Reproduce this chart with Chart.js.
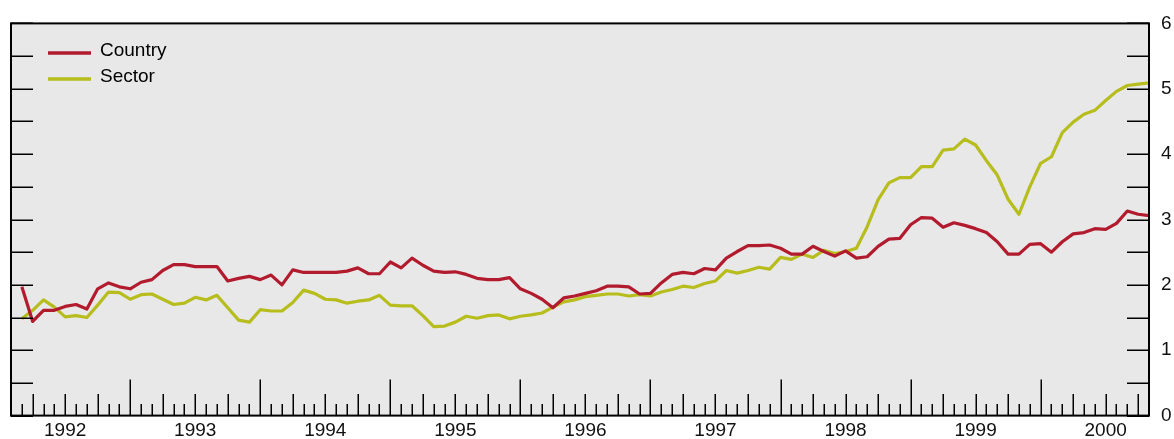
<!DOCTYPE html>
<html>
<head>
<meta charset="utf-8">
<script src="https://cdn.jsdelivr.net/npm/chart.js@4/dist/chart.umd.min.js"></script>
<style>
  html, body { margin: 0; padding: 0; background: #ffffff; }
  #wrap { width: 1174px; height: 439px; }
</style>
</head>
<body>
<div id="wrap"><canvas id="c" width="1174" height="439"></canvas></div>
<script>
// ---- data (monthly, March 1992 to November 2000) ----
const startYear = 1992;
const startMonth = 3; // March
const yearLabels = ['1992', '1993', '1994', '1995', '1996', '1997', '1998', '1999', '2000'];
const yTickValues = [0, 1, 2, 3, 4, 5, 6];
const seriesNames = ['Country', 'Sector'];

const country = [
  1.97, 1.44, 1.61, 1.61, 1.67, 1.70, 1.63, 1.94, 2.03, 1.97, 1.94, 2.04,
  2.08, 2.22, 2.31, 2.31, 2.28, 2.28, 2.28, 2.06, 2.10, 2.13, 2.08, 2.15,
  2.00, 2.23, 2.19, 2.19, 2.19, 2.19, 2.21, 2.26, 2.17, 2.17, 2.35, 2.26,
  2.41, 2.30, 2.21, 2.19, 2.20, 2.16, 2.10, 2.08, 2.08, 2.11, 1.94, 1.87,
  1.78, 1.65, 1.80, 1.83, 1.87, 1.91, 1.98, 1.98, 1.97, 1.86, 1.87, 2.03,
  2.16, 2.19, 2.17, 2.25, 2.23, 2.41, 2.51, 2.60, 2.60, 2.61, 2.56, 2.47,
  2.47, 2.59, 2.51, 2.44, 2.52, 2.41, 2.43, 2.59, 2.70, 2.71, 2.92, 3.03,
  3.02, 2.88, 2.95, 2.91, 2.86, 2.80, 2.66, 2.47, 2.47, 2.62, 2.63, 2.50,
  2.66, 2.78, 2.80, 2.86, 2.85, 2.94, 3.13, 3.08, 3.06
];
const sector = [
  1.48, 1.61, 1.77, 1.66, 1.51, 1.53, 1.50, 1.69, 1.89, 1.88, 1.78, 1.85,
  1.86, 1.78, 1.70, 1.72, 1.81, 1.77, 1.84, 1.65, 1.46, 1.43, 1.62, 1.60,
  1.60, 1.73, 1.92, 1.87, 1.78, 1.77, 1.72, 1.75, 1.77, 1.84, 1.69, 1.68,
  1.68, 1.53, 1.36, 1.37, 1.43, 1.52, 1.49, 1.53, 1.54, 1.48, 1.52, 1.54,
  1.57, 1.66, 1.74, 1.77, 1.82, 1.84, 1.86, 1.86, 1.83, 1.85, 1.83, 1.89,
  1.93, 1.98, 1.96, 2.02, 2.06, 2.22, 2.18, 2.22, 2.27, 2.24, 2.42, 2.39,
  2.47, 2.42, 2.53, 2.48, 2.51, 2.56, 2.89, 3.30, 3.56, 3.64, 3.64, 3.81,
  3.81, 4.06, 4.08, 4.23, 4.14, 3.90, 3.68, 3.31, 3.08, 3.50, 3.86, 3.96,
  4.33, 4.49, 4.61, 4.67, 4.82, 4.96, 5.05, 5.07, 5.09
];

// ---- style ----
const RED = '#b21a2d';
const GREEN = '#b6bd1c';
const PLOT_BG = '#e8e8e8';
const FONT = "'Liberation Sans', Arial, Helvetica, sans-serif";

// time positions in decimal years (month index -> year fraction)
const xValues = country.map((_, i) => startYear + (startMonth - 1 + i) / 12);
const X_MIN = startYear + (startMonth - 2) / 12;
const X_MAX = xValues[xValues.length - 1];

const toPts = arr => arr.map((v, i) => ({ x: xValues[i], y: v }));

const backgroundPlugin = {
  id: 'bg',
  beforeDraw(chart) {
    const { ctx, chartArea: a } = chart;
    ctx.save();
    ctx.fillStyle = '#ffffff';
    ctx.fillRect(0, 0, chart.width, chart.height);
    ctx.fillStyle = PLOT_BG;
    ctx.fillRect(a.left, a.top, a.right - a.left, a.bottom - a.top);
    ctx.restore();
  }
};

const frameTicksPlugin = {
  id: 'frameTicks',
  afterDraw(chart) {
    const { ctx, chartArea: a, scales } = chart;
    const xs = scales.x, ys = scales.y;
    ctx.save();
    ctx.strokeStyle = '#000';
    ctx.lineWidth = 1.5;
    // y ticks every half unit, both sides, pointing inwards
    ctx.beginPath();
    for (let v = ys.min; v <= ys.max + 1e-9; v += 0.5) {
      const py = Math.round(ys.getPixelForValue(v)) + 0.25;
      ctx.moveTo(a.left, py); ctx.lineTo(a.left + 22, py);
      ctx.moveTo(a.right - 22, py); ctx.lineTo(a.right, py);
    }
    ctx.stroke();
    // x month ticks, pointing up from the bottom axis
    ctx.beginPath();
    const firstMonth = Math.ceil(xs.min * 12 + 1e-6);
    const lastMonth = Math.floor(xs.max * 12 - 1e-6);
    for (let m = firstMonth; m <= lastMonth; m++) {
      const px = Math.round(xs.getPixelForValue(m / 12)) + 0.25;
      const mo = ((m % 12) + 12) % 12;
      let len = 11.5;
      if (mo === 0) len = 36;
      else if (mo % 3 === 0) len = 21.5;
      ctx.moveTo(px, a.bottom); ctx.lineTo(px, a.bottom - len);
    }
    ctx.stroke();
    // frame
    ctx.lineWidth = 2;
    ctx.strokeRect(a.left, a.top, a.right - a.left, a.bottom - a.top);
    ctx.restore();

    // legend
    ctx.save();
    const items = [
      { label: seriesNames[0], color: RED, y: 53 },
      { label: seriesNames[1], color: GREEN, y: 79 }
    ];
    ctx.font = "19px " + FONT;
    ctx.textBaseline = 'middle';
    ctx.fillStyle = '#000';
    items.forEach(it => {
      ctx.strokeStyle = it.color;
      ctx.lineWidth = 3.5;
      ctx.beginPath();
      ctx.moveTo(48, it.y); ctx.lineTo(91, it.y);
      ctx.stroke();
      ctx.fillText(it.label, 100, it.y - 2.5);
    });
    ctx.restore();
  }
};

new Chart(document.getElementById('c'), {
  type: 'line',
  data: {
    datasets: [
      { label: seriesNames[0], data: toPts(country), borderColor: RED, backgroundColor: RED,
        borderWidth: 3.2, pointRadius: 0, tension: 0, borderJoinStyle: 'round' },
      { label: seriesNames[1], data: toPts(sector), borderColor: GREEN, backgroundColor: GREEN,
        borderWidth: 3.2, pointRadius: 0, tension: 0, borderJoinStyle: 'round' }
    ]
  },
  options: {
    responsive: false,
    animation: false,
    events: [],
    layout: { padding: { left: 11, top: 19, right: 0, bottom: 0 } },
    plugins: { legend: { display: false }, tooltip: { enabled: false } },
    scales: {
      x: {
        type: 'linear',
        min: X_MIN,
        max: X_MAX,
        grid: { display: false, drawTicks: false },
        border: { display: false },
        afterBuildTicks: s => { s.ticks = yearLabels.map(y => ({ value: Number(y) + 0.5 })); },
        afterFit: s => { s.height = 21; },
        ticks: {
          autoSkip: false, maxRotation: 0, padding: 4, color: '#111',
          font: { family: FONT, size: 19 },
          callback: v => String(Math.floor(v))
        }
      },
      y: {
        position: 'right',
        min: 0,
        max: 6,
        grid: { display: false, drawTicks: false },
        border: { display: false },
        afterBuildTicks: s => { s.ticks = yTickValues.map(v => ({ value: v })); },
        afterFit: s => { s.width = 25; },
        ticks: {
          padding: 12, color: '#111',
          font: { family: FONT, size: 19 },
          callback: v => String(v)
        }
      }
    }
  },
  plugins: [backgroundPlugin, frameTicksPlugin]
});
</script>
</body>
</html>
